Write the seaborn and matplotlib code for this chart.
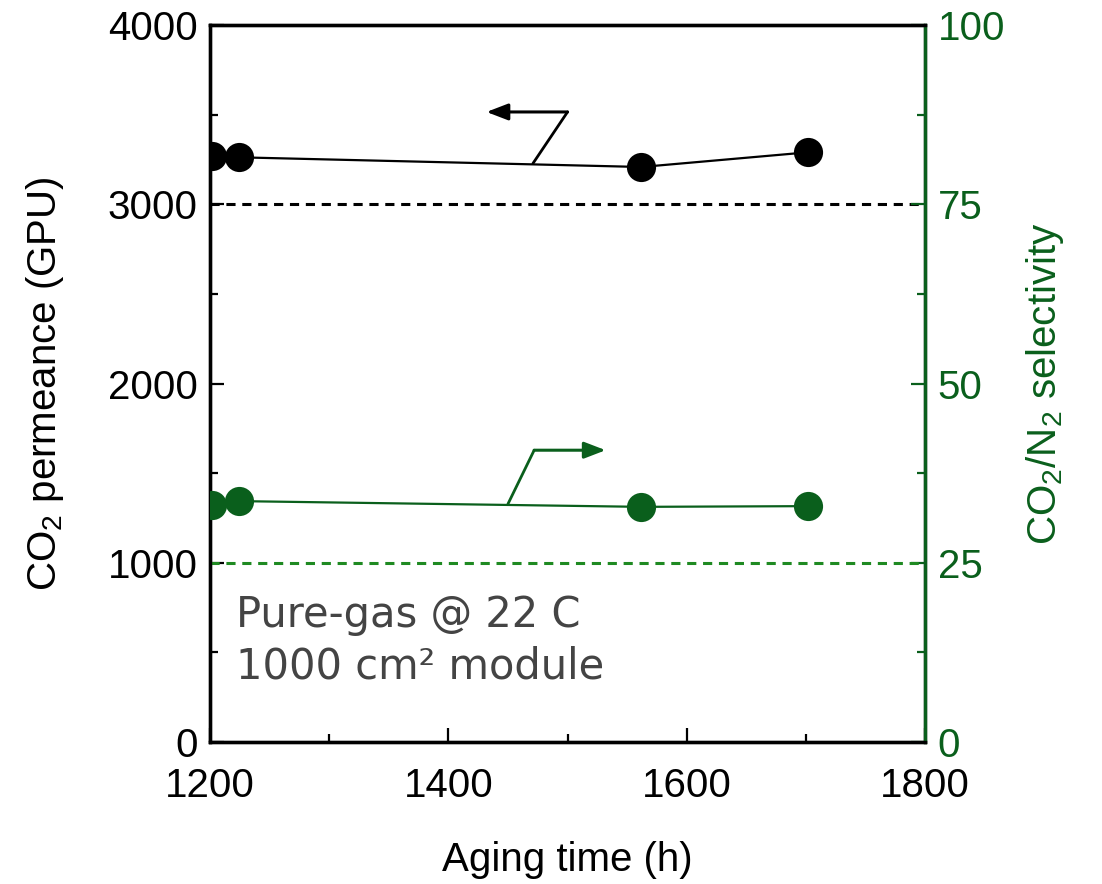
import numpy as np
import matplotlib
matplotlib.use("Agg")
import matplotlib.pyplot as plt
import seaborn as sns

# aging time (h)
aging_time = [1202, 1224, 1562, 1702]
# CO2 permeance (GPU), left axis
permeance = [3270, 3262, 3208, 3290]
# CO2/N2 selectivity, right axis
selectivity = [33.0, 33.6, 32.8, 32.9]

permeance_target = 3000
selectivity_target = 25

BLACK = "black"
GREEN = "#0a5f1c"
GREEN_DASH = "#1f8a22"
GREY = "#444444"

sns.set_style("ticks")
plt.rcParams["font.family"] = ["Liberation Sans", "DejaVu Sans"]
plt.rcParams["mathtext.default"] = "regular"
plt.rcParams["text.color"] = BLACK
plt.rcParams["axes.labelcolor"] = BLACK
plt.rcParams["xtick.color"] = BLACK
plt.rcParams["ytick.color"] = BLACK
plt.rcParams["axes.edgecolor"] = BLACK

fig = plt.figure(figsize=(11.02, 8.84), dpi=100)
ax = fig.add_axes([0.1906, 0.1606, 0.6488, 0.8111])
ax2 = ax.twinx()

# reference lines
ax.axhline(permeance_target, color=BLACK, lw=2.2, ls=(0, (3, 2.2)), zorder=1)
ax2.axhline(selectivity_target, color=GREEN_DASH, lw=2.2, ls=(0, (3, 2.2)), zorder=1)

sns.lineplot(x=aging_time, y=permeance, ax=ax, color=BLACK, lw=1.6,
             marker="o", markersize=21, markeredgewidth=0, zorder=3)
sns.lineplot(x=aging_time, y=selectivity, ax=ax2, color=GREEN, lw=1.6,
             marker="o", markersize=21, markeredgewidth=0, zorder=3)

ax.set_xlim(1200, 1800)
ax.set_ylim(0, 4000)
ax2.set_ylim(0, 100)

ax.set_xticks(np.arange(1200, 1801, 200))
ax.set_xticks(np.arange(1200, 1801, 100), minor=True)
ax.set_yticks(np.arange(0, 4001, 1000))
ax.set_yticks(np.arange(0, 4001, 500), minor=True)
ax2.set_yticks(np.arange(0, 101, 25))
ax2.set_yticks(np.arange(0, 101, 12.5), minor=True)

ax.tick_params(axis="both", which="major", direction="in", length=10, width=1.6,
               labelsize=29, pad=9, color=BLACK, labelcolor=BLACK)
ax.tick_params(axis="both", which="minor", direction="in", length=6, width=1.6)
ax.tick_params(axis="x", pad=18)
ax2.tick_params(axis="y", which="major", direction="in", length=10, width=1.6,
                labelsize=29, pad=9, color=GREEN, labelcolor=GREEN)
ax2.tick_params(axis="y", which="minor", direction="in", length=6, width=1.6, color=GREEN)

for a in (ax, ax2):
    for s in a.spines.values():
        s.set_linewidth(2.4)
        s.set_visible(True)
        s.set_color(BLACK)
ax2.spines["right"].set_color(GREEN)

ax.set_xlabel("Aging time (h)", fontsize=29, labelpad=26)
ax.set_ylabel("CO$_2$ permeance (GPU)", fontsize=29, labelpad=30)
ax2.set_ylabel("CO$_2$/N$_2$ selectivity", fontsize=29, color=GREEN, labelpad=14)

# pointer arrows
arrow_style = "-|>,head_length=1.3,head_width=0.5"
blk_base, blk_corner, blk_head = (1471, 3228), (1500, 3515), (1432, 3515)
ax.plot([blk_base[0], blk_corner[0]], [blk_base[1], blk_corner[1]], color=BLACK, lw=2, zorder=4)
ax.annotate("", xy=blk_head, xytext=blk_corner,
            arrowprops=dict(arrowstyle=arrow_style, color=BLACK, lw=2.2,
                            shrinkA=0, shrinkB=0))
grn_base, grn_corner, grn_head = (1450, 33.2), (1472, 40.7), (1532, 40.7)
ax2.plot([grn_base[0], grn_corner[0]], [grn_base[1], grn_corner[1]], color=GREEN, lw=2, zorder=4)
ax2.annotate("", xy=grn_head, xytext=grn_corner,
             arrowprops=dict(arrowstyle=arrow_style, color=GREEN, lw=2.2,
                             shrinkA=0, shrinkB=0))

ax.text(0.036, 0.206, "Pure-gas @ 22 C\n1000 cm\u00b2 module", transform=ax.transAxes,
        fontsize=30, color=GREY, family=["DejaVu Sans"], linespacing=1.27,
        ha="left", va="top")

fig.savefig("out.png", dpi=100)
